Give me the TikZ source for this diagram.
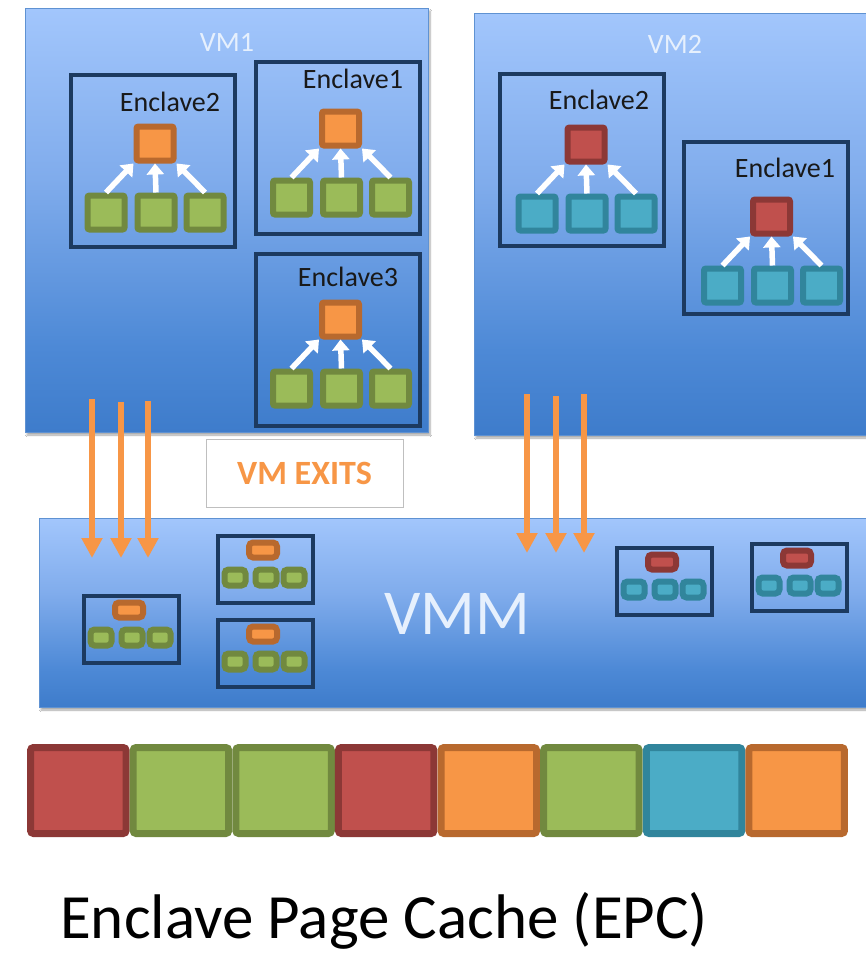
\documentclass[tikz,border=0pt]{standalone}
\usepackage{fontspec}
\setmainfont{Carlito}
\usetikzlibrary{arrows.meta,shadows.blur}

\definecolor{orF}{HTML}{F79646}
\definecolor{orD}{HTML}{B8692E}
\definecolor{grF}{HTML}{9BBB59}
\definecolor{grD}{HTML}{71893F}
\definecolor{rdF}{HTML}{C0504D}
\definecolor{rdD}{HTML}{8C3836}
\definecolor{tlF}{HTML}{4BACC6}
\definecolor{tlD}{HTML}{31859C}
\definecolor{navy}{HTML}{1C3A60}
\definecolor{vmB}{HTML}{3E7CCB}
\definecolor{vmL}{HTML}{4D89D6}
\definecolor{vmM}{HTML}{80ACEC}
\definecolor{vmT}{HTML}{A2C6FC}
\definecolor{vmEdge}{HTML}{5F92D2}
\definecolor{lblW}{HTML}{E6F0FD}

\pgfdeclareverticalshading{vmshade}{100bp}{color(0bp)=(vmB); color(25bp)=(vmB);
  color(35bp)=(vmL); color(55bp)=(vmM); color(75bp)=(vmT); color(100bp)=(vmT)}

\tikzset{
  vmbox/.style={draw=vmEdge, line width=1pt, shading=vmshade,
    blur shadow={shadow xshift=2pt, shadow yshift=-3pt, shadow opacity=35, shadow blur steps=6}},
  encbox/.style={draw=navy, line width=4pt, minimum width=164pt, minimum height=172pt, inner sep=0pt},
  minibox/.style={draw=navy, line width=4pt, minimum width=95pt, minimum height=67pt, inner sep=0pt},
  sq/.style={line width=6pt, minimum width=37pt, minimum height=34pt, inner sep=0pt, rounded corners=2pt},
  osq/.style={sq, draw=orD, fill=orF},
  gsq/.style={sq, draw=grD, fill=grF},
  rsq/.style={sq, draw=rdD, fill=rdF},
  tsq/.style={sq, draw=tlD, fill=tlF},
  mtop/.style={line width=6pt, minimum width=28pt, minimum height=15pt, inner sep=0pt, rounded corners=4pt},
  mkid/.style={line width=6pt, minimum width=21pt, minimum height=16pt, inner sep=0pt, rounded corners=4pt},
  motop/.style={mtop, draw=orD, fill=orF},
  mrtop/.style={mtop, draw=rdD, fill=rdF},
  mgkid/.style={mkid, draw=grD, fill=grF},
  mtkid/.style={mkid, draw=tlD, fill=tlF},
  epc/.style={line width=7pt, minimum width=95.6pt, minimum height=86pt, inner sep=0pt, rounded corners=3pt},
  enclbl/.style={font=\fontsize{28}{30}\selectfont, inner sep=0pt, text=black!90},
  vmlbl/.style={font=\fontsize{28}{30}\selectfont, inner sep=0pt, text=lblW},
  warrow/.style={draw=white, line width=5.5pt, -{Triangle[width=17pt,length=11pt]}},
  oarrow/.style={draw=orF, line width=5.5pt, -{Triangle[width=20pt,length=20pt]}},
}

% an enclave: parent page fed by three child pages
% #1 name, #2 x, #3 y, #4 parent style, #5 child style, #6 title, #7 title position, #8 content shift
\newcommand\bigencl[8]{%
  \begin{scope}[shift={(#2,#3)}]
    \node[encbox] (#1) at (84,88) {};
    \node[enclbl] (#1-t) at #7 {#6};
    \begin{scope}[shift={#8}]
      \node[#4] (#1-p) at (86,70) {};
      \node[#5] (#1-c1) at (37,139) {};
      \node[#5] (#1-c2) at (87,139) {};
      \node[#5] (#1-c3) at (136,139) {};
      \draw[warrow] (#1-c1.north) -- (#1-p.south west);
      \draw[warrow] (#1-c2.north) -- (#1-p.south);
      \draw[warrow] (#1-c3.north) -- (#1-p.south east);
    \end{scope}
  \end{scope}}

% a small enclave copy held by the VMM
% #1 name, #2 x, #3 y, #4 parent style, #5 child style
\newcommand\miniencl[5]{%
  \begin{scope}[shift={(#2,#3)}]
    \node[minibox] (#1) at (49.5,35.5) {};
    \node[#4] (#1-p) at (47,16) {};
    \node[#5] (#1-c1) at (19,43.5) {};
    \node[#5] (#1-c2) at (50,43.5) {};
    \node[#5] (#1-c3) at (78,43.5) {};
  \end{scope}}

\begin{document}
\begin{tikzpicture}[x=1pt, y=-1pt]
  \useasboundingbox[fill=white] (0,0) rectangle (866,956);

  % virtual machines
  \path[vmbox] (25,8) rectangle (428,432);
  \node[vmlbl] (vm1) at (227,42) {VM1};
  \path[vmbox] (474,13) rectangle (880,435);
  \node[vmlbl] (vm2) at (675,44) {VM2};

  \bigencl{a2}{69}{73}{osq}{gsq}{Enclave2}{(101,29)}{(0,0.5)}
  \bigencl{a1}{254}{60}{osq}{gsq}{Enclave1}{(99,19)}{(0.5,-1.5)}
  \bigencl{a3}{254}{252}{osq}{gsq}{Enclave3}{(94,25)}{(0.5,-2.5)}
  \bigencl{b2}{498}{72}{rsq}{tsq}{Enclave2}{(101,28)}{(2,2.5)}
  \bigencl{b1}{682}{140}{rsq}{tsq}{Enclave1}{(103,28)}{(3.5,6.5)}

  % exits label
  \node[draw=black!25, line width=0.8pt, fill=white, minimum width=197pt, minimum height=68pt,
        inner sep=0pt, font=\fontsize{34}{36}\selectfont\bfseries, text=orF] (exits) at (304.5,473) {VM EXITS};

  % hypervisor
  \path[vmbox] (39,518) rectangle (880,707);
  \node[font=\fontsize{64}{66}\selectfont, text=lblW, inner sep=0pt] (vmm) at (457,614) {VMM};

  \miniencl{ma}{82}{594}{motop}{mgkid}
  \miniencl{mb}{216}{534}{motop}{mgkid}
  \miniencl{mc}{216}{618}{motop}{mgkid}
  \miniencl{md}{615}{546}{mrtop}{mtkid}
  \miniencl{me}{750}{542}{mrtop}{mtkid}

  % exits from the guests into the VMM
  \coordinate (s1) at (92,399);  \coordinate (e1) at (92,558);
  \coordinate (s2) at (121,402); \coordinate (e2) at (121,558);
  \coordinate (s3) at (148,401); \coordinate (e3) at (148,558);
  \coordinate (s4) at (527,394); \coordinate (e4) at (527,553);
  \coordinate (s5) at (556,396); \coordinate (e5) at (556,553);
  \coordinate (s6) at (584,394); \coordinate (e6) at (584,553);
  \foreach \i in {1,...,6} { \draw[oarrow] (s\i) -- (e\i); }

  % enclave page cache
  \foreach \i/\f/\d in {1/rdF/rdD, 2/grF/grD, 3/grF/grD, 4/rdF/rdD,
                        5/orF/orD, 6/grF/grD, 7/tlF/tlD, 8/orF/orD} {
    \node[epc, fill=\f, draw=\d] (p\i) at ({27+102.625*(\i-0.5)},790.5) {};
  }
  \node[font=\fontsize{63}{66}\selectfont, inner sep=0pt, anchor=base west] (epcname) at (60,938) {Enclave Page Cache (EPC)};
\end{tikzpicture}
\end{document}
